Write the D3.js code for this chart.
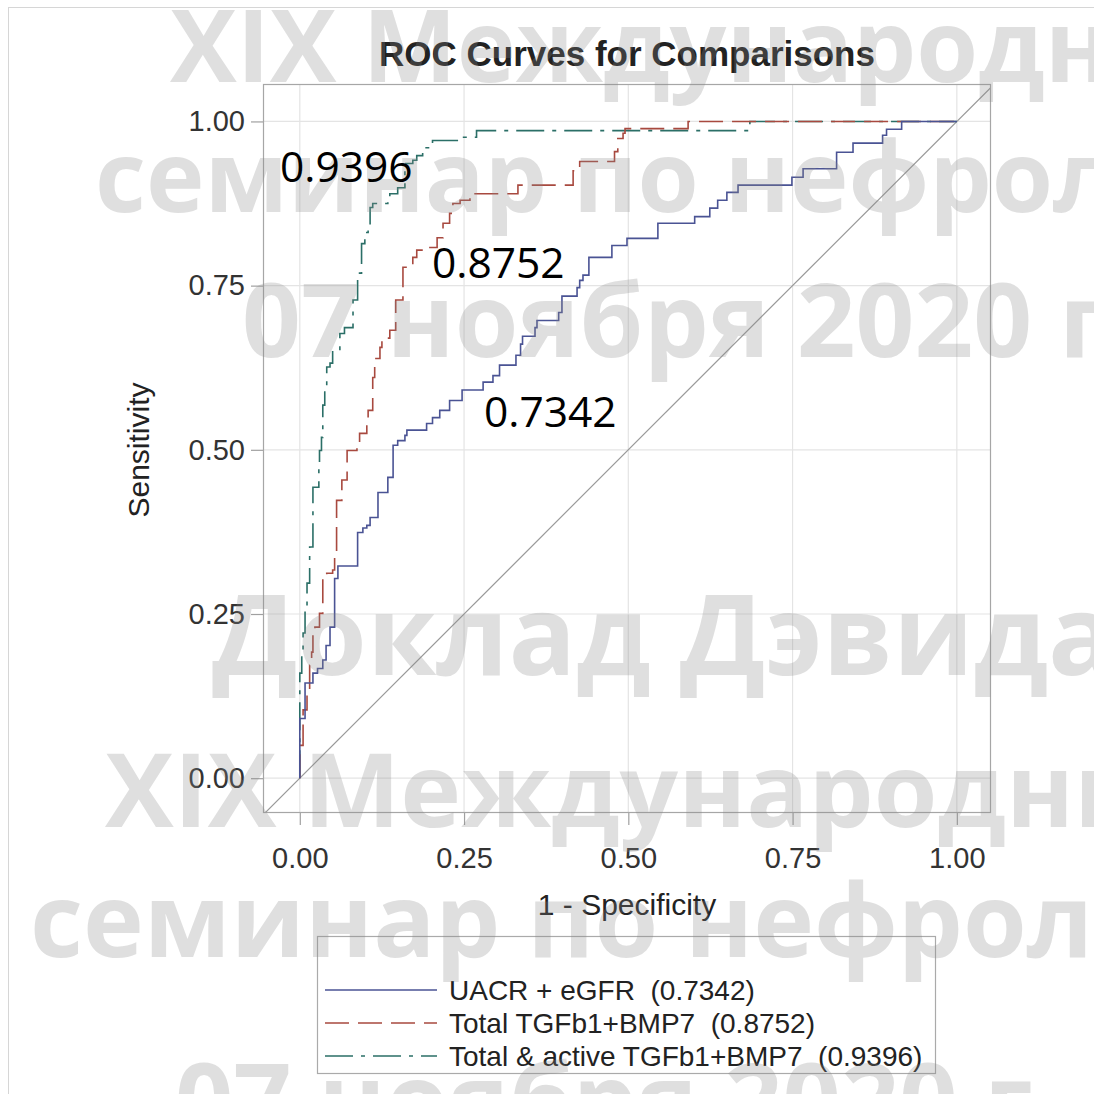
<!DOCTYPE html>
<html><head><meta charset="utf-8">
<script src="https://cdn.jsdelivr.net/npm/d3@7"></script>
<style>body{margin:0;background:#fff}svg{display:block}</style>
</head><body>
<svg id="c" width="1094" height="1094"></svg>
<script>
// ---------------- data ----------------
const seriesNames = ["UACR + eGFR", "Total TGFb1+BMP7", "Total & active TGFb1+BMP7"];
const aucValues = ["0.7342", "0.8752", "0.9396"];

const uacrFpr = [0, 0, 0.008, 0.020, 0.027, 0.035, 0.040, 0.046, 0.053, 0.058, 0.088, 0.096, 0.102, 0.107, 0.119, 0.134, 0.142, 0.149, 0.160, 0.163, 0.193, 0.202, 0.213, 0.228, 0.247, 0.279, 0.294, 0.304, 0.329, 0.336, 0.339, 0.358, 0.361, 0.394, 0.399, 0.422, 0.426, 0.431, 0.440, 0.475, 0.498, 0.545, 0.601, 0.624, 0.636, 0.650, 0.667, 0.749, 0.766, 0.817, 0.842, 0.887, 0.893, 0.916, 1.0];
const uacrTpr = [0, 0.091, 0.145, 0.160, 0.167, 0.180, 0.202, 0.230, 0.304, 0.323, 0.374, 0.381, 0.385, 0.397, 0.435, 0.458, 0.507, 0.514, 0.522, 0.530, 0.540, 0.549, 0.560, 0.575, 0.591, 0.603, 0.613, 0.629, 0.644, 0.661, 0.673, 0.686, 0.697, 0.709, 0.734, 0.747, 0.758, 0.766, 0.793, 0.811, 0.822, 0.845, 0.855, 0.868, 0.880, 0.892, 0.903, 0.915, 0.928, 0.953, 0.967, 0.979, 0.988, 1.0, 1.0];

const totalFpr = [0, 0, 0.005, 0.011, 0.015, 0.018, 0.020, 0.023, 0.030, 0.035, 0.041, 0.050, 0.053, 0.056, 0.064, 0.072, 0.087, 0.091, 0.102, 0.104, 0.111, 0.114, 0.122, 0.125, 0.137, 0.146, 0.157, 0.172, 0.178, 0.193, 0.209, 0.218, 0.228, 0.233, 0.244, 0.259, 0.332, 0.416, 0.426, 0.479, 0.484, 0.492, 0.495, 0.591, 1.0];
const totalTpr = [0, 0.050, 0.104, 0.134, 0.172, 0.192, 0.221, 0.230, 0.251, 0.304, 0.312, 0.317, 0.336, 0.423, 0.454, 0.499, 0.510, 0.525, 0.545, 0.560, 0.610, 0.639, 0.656, 0.670, 0.682, 0.728, 0.778, 0.793, 0.804, 0.808, 0.823, 0.845, 0.860, 0.875, 0.880, 0.890, 0.903, 0.925, 0.939, 0.954, 0.974, 0.982, 0.989, 1.0, 1.0];

const activeFpr = [0, 0, 0.003, 0.005, 0.008, 0.011, 0.015, 0.020, 0.029, 0.030, 0.033, 0.035, 0.038, 0.041, 0.046, 0.050, 0.061, 0.068, 0.081, 0.088, 0.094, 0.099, 0.104, 0.107, 0.111, 0.134, 0.137, 0.149, 0.160, 0.172, 0.178, 0.187, 0.202, 0.244, 0.269, 0.685, 1.0];
const activeTpr = [0, 0.160, 0.195, 0.221, 0.260, 0.297, 0.352, 0.443, 0.472, 0.499, 0.519, 0.568, 0.591, 0.626, 0.632, 0.651, 0.677, 0.686, 0.728, 0.769, 0.814, 0.831, 0.839, 0.869, 0.875, 0.880, 0.890, 0.899, 0.936, 0.941, 0.948, 0.960, 0.971, 0.976, 0.986, 1.0, 1.0];

const tickValues = [0, 0.25, 0.5, 0.75, 1];
const axisDomainX = [-0.056, 1.052];
const axisDomainY = [-0.053, 1.057];
const titleText = "ROC Curves for Comparisons";
const xLabel = "1 - Specificity";
const yLabel = "Sensitivity";
const watermarkLines = ["XIX Международный", "семинар по нефрологии", "07 ноября 2020 г.", "Доклад Дэвида", "XIX Международный", "семинар по нефрологии", "07 ноября 2020 г."];

// ---------------- layout/styles ----------------
const W = 1094, H = 1094;
const L = 263, R = 991, T = 84, B = 813;
const colors = ["#4a5394", "#a8493f", "#2b6f67"];
const dashes = [null, "24,9", "28,8,4,8"];
const seriesFpr = [uacrFpr, totalFpr, activeFpr];
const seriesTpr = [uacrTpr, totalTpr, activeTpr];
const annotPos = [[484, 427], [432, 278], [280, 182]];

const svg = d3.select("#c");
svg.append("rect").attr("width", W).attr("height", H).attr("fill", "#fff");
svg.append("rect").attr("x", 8.5).attr("y", 7.5).attr("width", W + 20).attr("height", H + 20)
  .attr("fill", "none").attr("stroke", "#d6d6d6");

const x = d3.scaleLinear().domain(axisDomainX).range([L, R]);
const y = d3.scaleLinear().domain(axisDomainY).range([B, T]);

svg.append("defs").append("clipPath").attr("id", "clip")
  .append("rect").attr("x", L).attr("y", T).attr("width", R - L).attr("height", B - T);

// gridlines
const grid = svg.append("g");
grid.selectAll(".gx").data(tickValues).join("line")
  .attr("x1", d => x(d)).attr("x2", d => x(d)).attr("y1", T).attr("y2", B)
  .attr("stroke", "#e4e4e4").attr("stroke-width", 1.2);
grid.selectAll(".gy").data(tickValues).join("line")
  .attr("y1", d => y(d)).attr("y2", d => y(d)).attr("x1", L).attr("x2", R)
  .attr("stroke", "#e4e4e4").attr("stroke-width", 1.2);

// diagonal
const plot = svg.append("g").attr("clip-path", "url(#clip)");
plot.append("line")
  .attr("x1", x(axisDomainX[0])).attr("y1", y(axisDomainX[0]))
  .attr("x2", x(axisDomainY[1])).attr("y2", y(axisDomainY[1]))
  .attr("stroke", "#999").attr("stroke-width", 1.2);

// curves
const line = d3.line().x(d => x(d[0])).y(d => y(d[1])).curve(d3.curveStepAfter);
[2, 1, 0].forEach(i => {
  const pts = seriesFpr[i].map((f, j) => [f, seriesTpr[i][j]]);
  plot.append("path").datum(pts).attr("d", line)
    .attr("fill", "none").attr("stroke", colors[i]).attr("stroke-width", 1.6)
    .attr("stroke-dasharray", dashes[i]);
});

// frame
svg.append("rect").attr("x", L + 0.5).attr("y", T + 0.5).attr("width", R - L - 1).attr("height", B - T - 1)
  .attr("fill", "none").attr("stroke", "#a6a6a6").attr("stroke-width", 1.2);

// axes
const fmt = d3.format(".2f");
const yAxis = svg.append("g").attr("transform", `translate(${L},0)`)
  .call(d3.axisLeft(y).tickValues(tickValues).tickFormat(fmt).tickSize(12).tickPadding(6));
const xAxis = svg.append("g").attr("transform", `translate(0,${B})`)
  .call(d3.axisBottom(x).tickValues(tickValues).tickFormat(fmt).tickSize(12).tickPadding(22));
[yAxis, xAxis].forEach(a => {
  a.select(".domain").remove();
  a.selectAll(".tick line").attr("stroke", "#a0a0a0").attr("stroke-width", 1.2);
  a.selectAll(".tick text").attr("font-family", "Liberation Sans, Arial, sans-serif")
    .attr("font-size", 29).attr("fill", "#333");
});

// titles
svg.append("text").attr("x", 627).attr("y", 66).attr("text-anchor", "middle")
  .attr("font-family", "Liberation Sans, Arial, sans-serif").attr("font-weight", "bold")
  .attr("font-size", 35).attr("fill", "#222").text(titleText);
svg.append("text").attr("x", 627).attr("y", 915).attr("text-anchor", "middle")
  .attr("font-family", "Liberation Sans, Arial, sans-serif").attr("font-size", 30)
  .attr("fill", "#222").text(xLabel);
svg.append("text").attr("transform", `translate(149,450) rotate(-90)`)
  .attr("text-anchor", "middle")
  .attr("font-family", "Liberation Sans, Arial, sans-serif").attr("font-size", 30)
  .attr("fill", "#222").text(yLabel);

// legend
const lg = svg.append("g");
lg.append("rect").attr("x", 317.5).attr("y", 936.5).attr("width", 618).attr("height", 137)
  .attr("fill", "#fff").attr("stroke", "#aaa").attr("stroke-width", 1.2);
seriesNames.forEach((n, i) => {
  const cy = 990 + i * 33;
  lg.append("line").attr("x1", 325).attr("x2", 437).attr("y1", cy).attr("y2", cy)
    .attr("stroke", colors[i]).attr("stroke-width", 1.6).attr("stroke-dasharray", dashes[i]);
  lg.append("text").attr("x", 449).attr("y", cy + 10)
    .attr("font-family", "Liberation Sans, Arial, sans-serif").attr("font-size", 28)
    .attr("fill", "#222").attr("xml:space", "preserve").style("white-space", "pre")
    .text(`${n}  (${aucValues[i]})`);
});

// watermark
const wmPos = [[170, 82, 100], [95, 212, 99], [242, 357, 103], [212, 675, 112], [105, 827, 103], [30, 957, 103], [175, 1137, 102]];
const wm = svg.append("g").attr("pointer-events", "none");
watermarkLines.forEach((t, i) => {
  wm.append("text").attr("x", wmPos[i][0]).attr("y", wmPos[i][1])
    .attr("font-family", "Open Sans, DejaVu Sans, sans-serif").attr("font-weight", 700)
    .attr("font-size", wmPos[i][2]).attr("fill", "#8a8a88").attr("fill-opacity", 0.27).text(t);
});

// AUC annotations
aucValues.forEach((v, i) => {
  svg.append("text").attr("x", annotPos[i][0]).attr("y", annotPos[i][1])
    .attr("font-family", "Open Sans, sans-serif").attr("font-size", 42.5)
    .attr("fill", "#000").text(v);
});
</script>
</body></html>
